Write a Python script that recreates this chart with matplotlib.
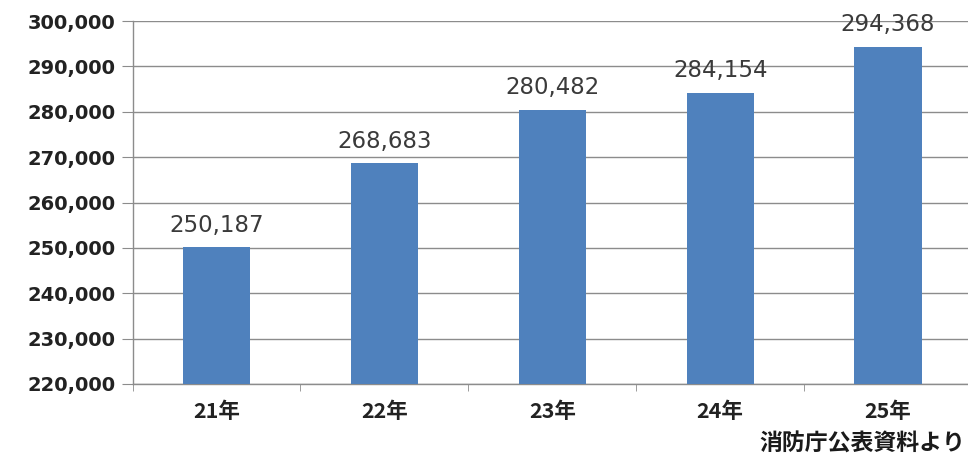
import matplotlib.pyplot as plt
import numpy as np
from matplotlib.ticker import FuncFormatter, FixedLocator

plt.rcParams['font.family'] = ['DejaVu Sans', 'Noto Sans CJK JP']

years = ['21年', '22年', '23年', '24年', '25年']
counts = [250187, 268683, 280482, 284154, 294368]
source = '消防庁公表資料より'

W, H = 968, 463
fig = plt.figure(figsize=(W / 100, H / 100), dpi=100)
ax = fig.add_axes([132.5 / W, 1 - 384 / H, (972 - 132.5) / W, (384 - 21) / H])

x = np.arange(len(years))
ax.bar(x, counts, width=0.4, color='#4F81BD', zorder=3)

# value labels above each bar
for xi, v in zip(x, counts):
    ax.text(xi, v + 2300, f'{v:,}', ha='center', va='bottom', fontsize=16.5,
            color='#3a3a3a', fontfamily='DejaVu Sans')

ax.set_ylim(220000, 300000)
ax.set_xlim(-0.5, len(years) - 0.5)
ax.set_yticks(np.arange(220000, 300001, 10000))
ax.yaxis.set_major_formatter(FuncFormatter(lambda v, p: f'{int(v):,}'))
ax.yaxis.grid(True, color='#8c8c8c', linewidth=1, zorder=0)

ax.set_xticks(x)
ax.set_xticklabels(years, fontfamily=['Noto Sans CJK JP'], fontweight='bold',
                   fontsize=15.5, color='#222222')
ax.xaxis.set_minor_locator(FixedLocator(np.arange(-0.5, len(years), 1.0)))
ax.tick_params(axis='x', which='major', length=0, pad=12)
ax.tick_params(axis='x', which='minor', length=5, color='#8c8c8c')
ax.tick_params(axis='y', length=8, color='#8c8c8c', labelsize=14, pad=4)
for lbl in ax.get_yticklabels():
    lbl.set_fontweight('bold')
    lbl.set_color('#222222')

for s in ['top', 'right']:
    ax.spines[s].set_visible(False)
for s in ['left', 'bottom']:
    ax.spines[s].set_color('#8c8c8c')
    ax.spines[s].set_linewidth(1)

fig.text(965 / W, 1 - 444 / H, source, ha='right', va='center', fontsize=16.5,
         fontfamily=['Noto Sans CJK JP'], fontweight='bold', color='#1a1a1a')

fig.savefig('out.png', dpi=100)
